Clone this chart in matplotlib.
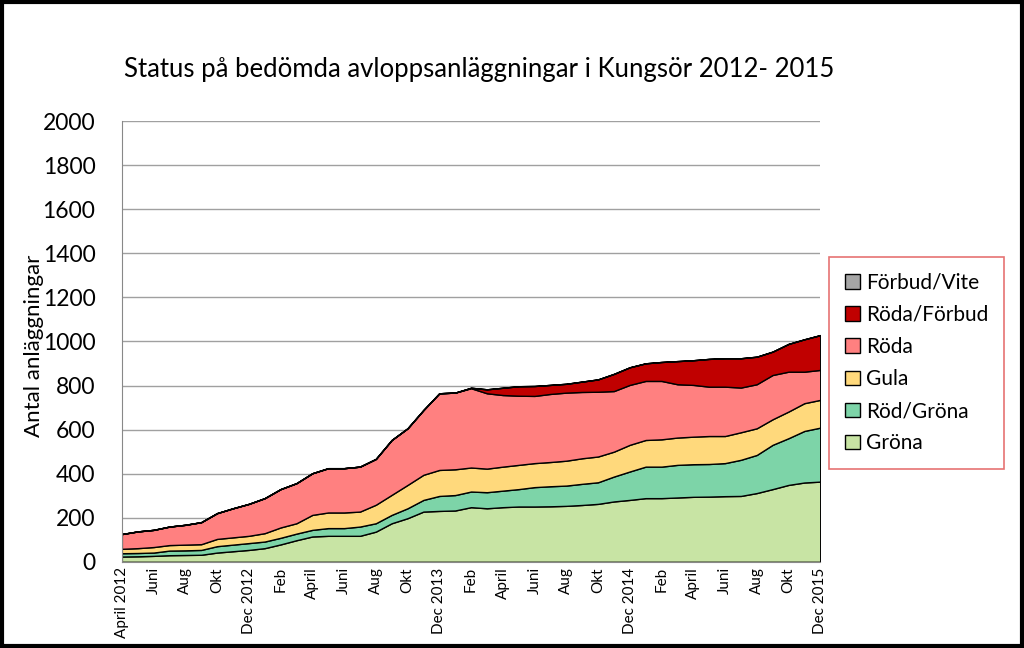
import numpy as np
import matplotlib.pyplot as plt
from matplotlib.patches import Rectangle

# month index 0 = April 2012 ... 44 = Dec 2015
tick_labels = ['April 2012', 'Juni', 'Aug', 'Okt', 'Dec 2012', 'Feb', 'April', 'Juni', 'Aug',
               'Okt', 'Dec 2013', 'Feb', 'April', 'Juni', 'Aug', 'Okt', 'Dec 2014', 'Feb',
               'April', 'Juni', 'Aug', 'Okt', 'Dec 2015']

grona = [24, 25, 27, 30, 31, 32, 42, 48, 54, 62, 79, 98, 115, 118, 118, 118, 137, 175, 198, 228,
         231, 233, 248, 243, 248, 251, 251, 252, 254, 258, 263, 274, 281, 289, 289, 292, 295, 296,
         298, 299, 312, 330, 349, 360, 364]
rod_grona = [15, 15, 15, 21, 21, 22, 29, 30, 31, 30, 30, 30, 30, 35, 35, 42, 38, 38, 45, 53,
             68, 70, 71, 73, 75, 79, 88, 91, 92, 96, 98, 113, 129, 143, 143, 148, 148, 148,
             150, 164, 173, 201, 212, 234, 245]
gula = [20, 22, 25, 25, 26, 26, 33, 33, 33, 38, 47, 47, 68, 71, 71, 68, 84, 91, 106, 114,
        118, 117, 109, 107, 109, 110, 109, 110, 113, 116, 117, 113, 121, 121, 124, 124, 125, 127,
        123, 125, 121, 116, 121, 126, 126]
roda = [67, 76, 78, 84, 90, 100, 117, 132, 145, 159, 174, 182, 189, 201, 201, 204, 208, 249, 257, 294,
        348, 348, 360, 342, 325, 314, 305, 309, 309, 301, 294, 275, 272, 268, 265, 242, 235, 224,
        224, 203, 200, 201, 181, 143, 136]
roda_forbud = [0, 0, 0, 0, 0, 0, 0, 0, 0, 0, 0, 0, 0, 0, 0, 0, 0, 0, 0, 0,
               0, 0, 2, 18, 33, 43, 45, 41, 40, 47, 56, 78, 80, 80, 86, 105, 112, 126,
               129, 133, 125, 106, 126, 147, 158]
forbud_vite = [0] * 45

series = [grona, rod_grona, gula, roda, roda_forbud, forbud_vite]
names = ['Gröna', 'Röd/Gröna', 'Gula', 'Röda', 'Röda/Förbud', 'Förbud/Vite']
colors = ['#c8e4a4', '#7dd4a8', '#ffd97c', '#ff8080', '#c00000', '#a6a6a6']

plt.rcParams['font.family'] = ['Lato', 'DejaVu Sans']

fig = plt.figure(figsize=(10.24, 6.48), dpi=100)
ax = fig.add_axes([0.119, 0.133, 0.682, 0.68])

x = np.arange(len(grona))
ax.stackplot(x, *series, colors=colors, edgecolor='black', linewidth=1.0, labels=names)

ax.set_xlim(0, 44)
ax.set_ylim(0, 2000)
ax.set_yticks(range(0, 2001, 200))
ax.tick_params(axis='y', labelsize=16.5, length=0, pad=19)
ax.set_xticks(x[::2])
ax.set_xticklabels(tick_labels, rotation=90, fontsize=11)
ax.tick_params(axis='x', length=0, pad=4)
ax.grid(axis='y', color='#a0a0a0', linewidth=1)
ax.set_axisbelow(True)
for s in ['top', 'right']:
    ax.spines[s].set_visible(False)
for s in ['left', 'bottom']:
    ax.spines[s].set_color('#888888')

ax.set_ylabel('Antal anläggningar', fontsize=16)
ax.yaxis.set_label_coords(-0.112, 0.49)
fig.text(0.468, 0.893, 'Status på bedömda avloppsanläggningar i Kungsör 2012- 2015',
         ha='center', va='center', fontsize=18.5)

handles, labels = ax.get_legend_handles_labels()
leg = fig.legend(handles[::-1], labels[::-1], loc='upper left',
                 bbox_to_anchor=(0.81, 0.603), fontsize=15, frameon=True,
                 fancybox=False, edgecolor='#e05050', handlelength=0.7, handleheight=0.7,
                 handletextpad=0.3, labelspacing=0.58, borderpad=0.75, borderaxespad=0)
leg.get_frame().set_linewidth(1.2)

# black frame around the whole picture
fig.patches.append(Rectangle((0.0015, 0.0025), 0.997, 0.995, transform=fig.transFigure,
                             fill=False, edgecolor='black', linewidth=3))

fig.savefig('out.png', dpi=100)
